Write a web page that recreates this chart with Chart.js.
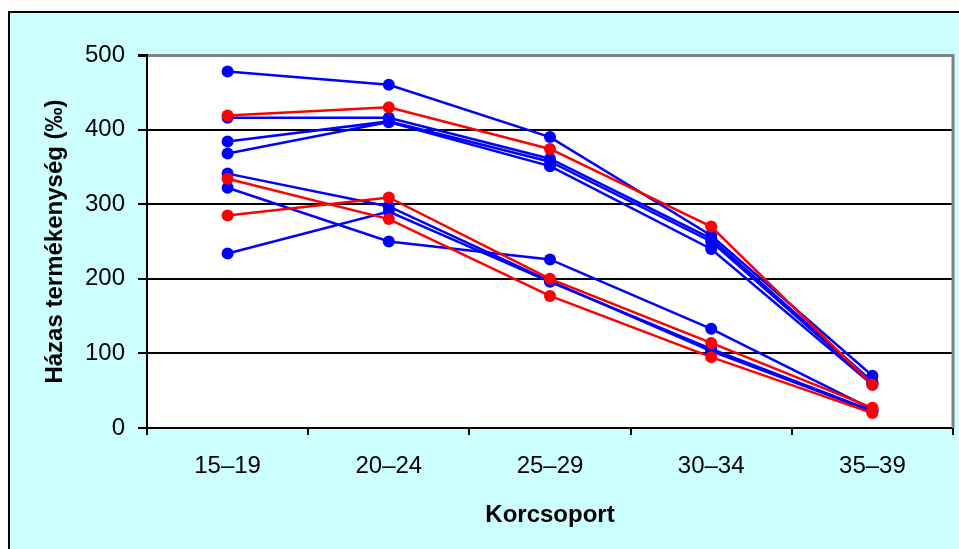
<!DOCTYPE html>
<html><head><meta charset="utf-8">
<script src="https://cdn.jsdelivr.net/npm/chart.js"></script>
<style>html,body{margin:0;padding:0;background:#fff}canvas{display:block}</style>
</head><body>
<canvas id="c" width="959" height="549"></canvas>
<script>
const categories = ['15–19','20–24','25–29','30–34','35–39'];
const yTickValues = [0,100,200,300,400,500];
const yTitle = 'Házas termékenység (‰)';
const xTitle = 'Korcsoport';

const seriesA = [478,460,390,258,70];
const seriesB = [419,430,374,270,58];
const seriesC = [416,416,361,254,62];
const seriesD = [384,411,357,250,60];
const seriesE = [368,410,351,240,58];
const seriesF = [341,297,197,103,22];
const seriesG = [334,280,177,95,20];
const seriesH = [322,250,226,133,25];
const seriesI = [285,309,200,114,27];
const seriesJ = [234,290,196,106,23];

const allSeries = [seriesA,seriesB,seriesC,seriesD,seriesE,seriesF,seriesG,seriesH,seriesI,seriesJ];
const seriesIsRed = [false,true,false,false,false,false,true,false,true,false];

const BLUE = '#0000FF', RED = '#FF0000';
const FONT = "'Liberation Sans', Arial, sans-serif";

const datasets = allSeries.map((d,i)=>{
  const col = seriesIsRed[i] ? RED : BLUE;
  return {
    data: d,
    borderColor: col,
    backgroundColor: col,
    borderWidth: 2.5,
    pointRadius: 6,
    pointHoverRadius: 6,
    pointBorderWidth: 0,
    pointBackgroundColor: col,
    tension: 0,
    fill: false,
    order: seriesIsRed[i] ? 0 : 1
  };
});

const bgPlugin = {
  id: 'bg',
  beforeDraw(chart){
    const {ctx, chartArea:a} = chart;
    ctx.save();
    ctx.fillStyle = '#ffffff';
    ctx.fillRect(0,0,chart.width,chart.height);
    ctx.fillStyle = '#CCFFFF';
    ctx.fillRect(9,12,chart.width,chart.height);
    ctx.strokeStyle = '#000';
    ctx.lineWidth = 2;
    ctx.beginPath();
    ctx.moveTo(9,chart.height+5); ctx.lineTo(9,12); ctx.lineTo(chart.width+5,12);
    ctx.stroke();
    ctx.fillStyle = '#ffffff';
    ctx.fillRect(a.left,a.top,a.right-a.left,a.bottom-a.top);
    ctx.restore();
  },
  beforeDatasetsDraw(chart){
    const {ctx, chartArea:a} = chart;
    ctx.save();
    ctx.strokeStyle = '#808080';
    ctx.lineWidth = 3;
    ctx.beginPath();
    ctx.moveTo(a.right, a.top-1); ctx.lineTo(a.right, a.bottom);
    ctx.stroke();
    ctx.restore();
  }
};

new Chart(document.getElementById('c'), {
  type: 'line',
  data: { labels: categories, datasets },
  plugins: [bgPlugin],
  options: {
    responsive: false,
    animation: false,
    layout: { padding: { left: 0, top: 55, right: 4, bottom: 0 } },
    plugins: { legend: { display: false }, tooltip: { enabled: false } },
    scales: {
      x: {
        type: 'category',
        offset: true,
        afterFit(s){ s.height = 121; },
        grid: { offset: true, drawOnChartArea: false, drawTicks: true, tickLength: 7, color: '#000', lineWidth: 2 },
        border: { color: '#000', width: 2 },
        ticks: { color: '#000', font: { family: FONT, size: 24 }, padding: 17, maxRotation: 0 },
        title: { display: true, text: xTitle, color: '#000', font: { family: FONT, size: 24, weight: 'bold' }, padding: { top: 0, bottom: 19 } }
      },
      y: {
        min: yTickValues[0],
        max: yTickValues[yTickValues.length-1],
        afterFit(s){ s.width = 147; },
        afterBuildTicks(s){ s.ticks = yTickValues.map(v=>({value:v})); },
        grid: {
          color: (c)=> (c.tick && c.tick.value === 500) ? '#808080' : '#000',
          tickColor: '#000',
          lineWidth: (c)=> (c.tick && c.tick.value === 500) ? 3 : 2,
          tickLength: 9,
          drawTicks: true
        },
        border: { color: '#000', width: 2 },
        ticks: { color: '#000', font: { family: FONT, size: 24 }, padding: 13 },
        title: { display: true, text: yTitle, color: '#000', font: { family: FONT, size: 24, weight: 'bold' }, padding: { top: 41, bottom: 0 } }
      }
    }
  }
});
</script>
</body></html>
